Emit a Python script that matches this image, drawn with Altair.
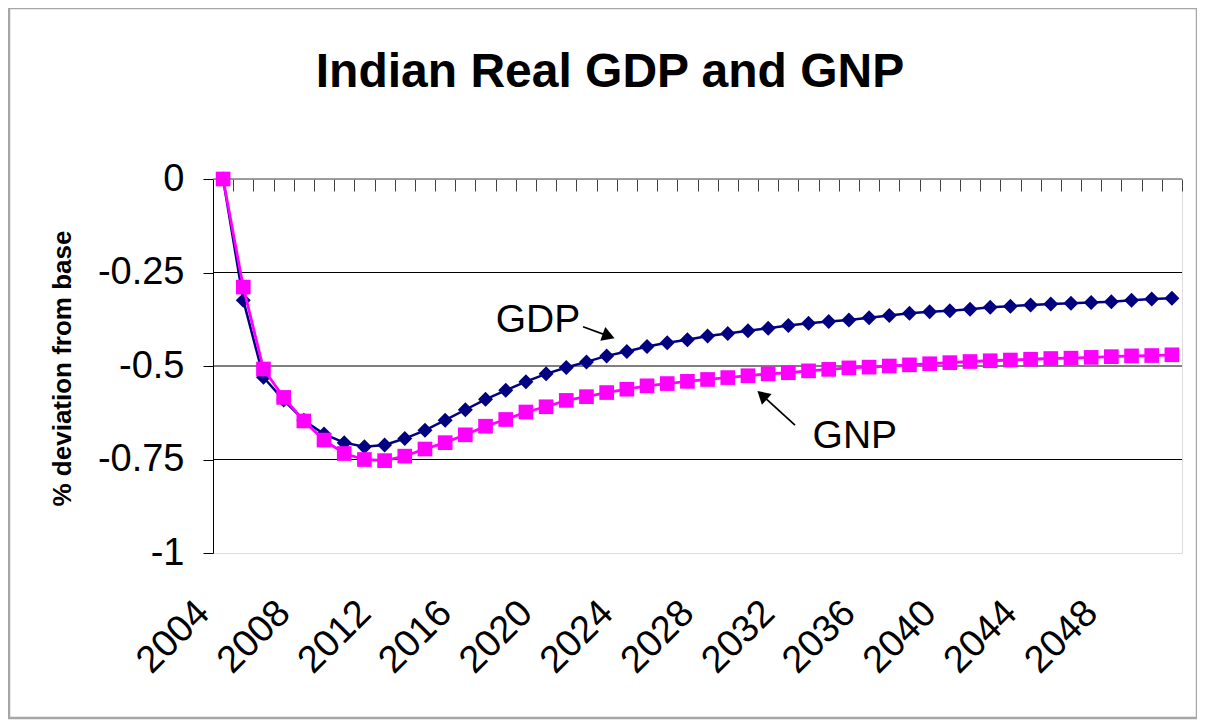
import altair as alt
import pandas as pd

# ---------------- data ----------------
years = list(range(2004, 2052))
gdp = [0.0, -0.324, -0.530, -0.591, -0.645, -0.682, -0.705, -0.716, -0.711, -0.694,
       -0.672, -0.645, -0.617, -0.589, -0.565, -0.542, -0.521, -0.504, -0.489, -0.473,
       -0.461, -0.448, -0.438, -0.430, -0.420, -0.413, -0.406, -0.399, -0.392, -0.386,
       -0.381, -0.377, -0.371, -0.365, -0.359, -0.355, -0.352, -0.348, -0.343, -0.340,
       -0.337, -0.334, -0.332, -0.330, -0.328, -0.324, -0.321, -0.319]
gnp = [0.0, -0.289, -0.508, -0.584, -0.647, -0.698, -0.734, -0.750, -0.753, -0.741,
       -0.722, -0.705, -0.684, -0.661, -0.643, -0.623, -0.609, -0.592, -0.582, -0.571,
       -0.562, -0.553, -0.547, -0.541, -0.536, -0.531, -0.526, -0.521, -0.518, -0.513,
       -0.509, -0.505, -0.503, -0.500, -0.497, -0.494, -0.491, -0.488, -0.486, -0.484,
       -0.482, -0.480, -0.479, -0.477, -0.475, -0.473, -0.472, -0.470]

x_label_years = [2004, 2008, 2012, 2016, 2020, 2024, 2028, 2032, 2036, 2040, 2044, 2048]
y_ticks = [0, -0.25, -0.5, -0.75, -1]
grid_values = [-0.25, -0.5, -0.75]
category_edges = [y - 0.5 for y in years] + [years[-1] + 0.5]

title_text = ["Indian Real GDP and GNP"]

# annotations (in data space)
ann_text = ["GDP", "GNP"]
ann_x = [2017.5, 2033.2]
ann_y = [-0.408, -0.719]
arrow_x0 = [2021.83, 2032.33]
arrow_y0 = [-0.395, -0.658]
arrow_x1 = [2023.1, 2030.7]
arrow_y1 = [-0.420, -0.578]
head_angle = [20, 222]

FONT = "Liberation Sans"
NAVY = "#000080"
MAGENTA = "#FF00FF"

df = pd.DataFrame({"year": years, "GDP": gdp, "GNP": gnp})
ann_df = pd.DataFrame({"label": ann_text, "x": ann_x, "y": ann_y})
arr_df = pd.DataFrame({"x0": arrow_x0, "y0": arrow_y0, "x1": arrow_x1,
                       "y1": arrow_y1, "angle": head_angle})
grid_df = pd.DataFrame({"v": grid_values})
frame_df = pd.DataFrame({"k": [0]})
title_df = pd.DataFrame({"t": title_text})

xscale = alt.Scale(domain=[years[0] - 0.5, years[-1] + 0.5], nice=False, zero=False)
yscale = alt.Scale(domain=[-1, 0], nice=False)

x_bottom = alt.X("year:Q", scale=xscale, title=None,
                 axis=alt.Axis(orient="bottom", values=x_label_years, format="d",
                               labelAngle=-45, labelAlign="right", labelBaseline="middle",
                               labelFontSize=38, labelFont=FONT, labelColor="black",
                               labelPadding=54, labelOffset=-20, labelFlush=False,
                               labelOverlap=False, labelBound=False,
                               ticks=False, domain=False, grid=False))
x_top = alt.X("year:Q", scale=xscale, title=None,
              axis=alt.Axis(orient="top", values=category_edges, labels=False,
                            ticks=True, tickSize=12, tickColor="#404040", tickWidth=1,
                            domain=False, grid=False, offset=-12))
x_plain = alt.X("year:Q", scale=xscale, axis=None)

y_axis = alt.Axis(values=y_ticks, labelExpr="toString(datum.value)",
                  labelFontSize=38, labelFont=FONT, labelColor="black",
                  labelPadding=19, tickSize=10, tickColor="black", tickWidth=1,
                  domainColor="black", domainWidth=1, grid=False,
                  title="% deviation from base", titleFont=FONT, titleFontSize=26,
                  titleFontWeight="bold", titleColor="black", titleAngle=270,
                  titleX=-143, titleY=189, titleAlign="center",
                  titleBaseline="alphabetic")

base = alt.Chart(df)

frame = alt.Chart(frame_df).mark_rect(filled=False, stroke="#a6a6a6", strokeWidth=2.5).encode(
    x=alt.value(-204), x2=alt.value(984), y=alt.value(-171), y2=alt.value(539)
)

title = alt.Chart(title_df).mark_text(font=FONT, fontSize=48, fontWeight="bold",
                                      align="center", baseline="alphabetic",
                                      color="black").encode(
    x=alt.value(397), y=alt.value(-92), text="t:N"
)

grid = alt.Chart(grid_df).mark_rule(color="black", strokeWidth=1).encode(
    y=alt.Y("v:Q", scale=yscale, axis=y_axis)
)

zero_line = alt.Chart(frame_df).mark_rule(color="#808080", strokeWidth=1.5).encode(
    y=alt.datum(0, scale=yscale)
)

gdp_line = base.mark_line(color=NAVY, strokeWidth=2.5).encode(
    x=x_top, y=alt.Y("GDP:Q", scale=yscale)
)
gdp_pts = base.mark_point(shape="diamond", filled=True, size=225, color=NAVY, opacity=1).encode(
    x=x_plain, y=alt.Y("GDP:Q", scale=yscale)
)
gnp_line = base.mark_line(color=MAGENTA, strokeWidth=2.8).encode(
    x=x_bottom, y=alt.Y("GNP:Q", scale=yscale)
)
gnp_pts = base.mark_point(shape="square", filled=True, size=215, color=MAGENTA, opacity=1).encode(
    x=x_plain, y=alt.Y("GNP:Q", scale=yscale)
)

ann = alt.Chart(ann_df).mark_text(font=FONT, fontSize=39, align="left",
                                  baseline="alphabetic", color="black").encode(
    x=alt.X("x:Q", scale=xscale, axis=None),
    y=alt.Y("y:Q", scale=yscale),
    text="label:N",
)
shafts = alt.Chart(arr_df).mark_rule(color="black", strokeWidth=1.7).encode(
    x=alt.X("x0:Q", scale=xscale, axis=None), x2="x1:Q",
    y=alt.Y("y0:Q", scale=yscale), y2="y1:Q",
)
heads = alt.Chart(arr_df).mark_point(shape="triangle-right", filled=True, size=210,
                                     color="black", opacity=1).encode(
    x=alt.X("x1:Q", scale=xscale, axis=None),
    y=alt.Y("y1:Q", scale=yscale),
    angle=alt.Angle("angle:Q", scale=None),
)

chart = alt.layer(
    frame, title, grid, zero_line, gdp_line, gdp_pts, gnp_line, gnp_pts, ann, shafts, heads
).properties(
    width=969, height=374,
    autosize=alt.AutoSizeParams(type="none"),
    padding={"left": 205, "top": 171, "right": 15, "bottom": 167},
).configure_view(stroke=None).configure(background="white")

chart.save("out.html", embed_options={"renderer": "svg", "actions": False})
